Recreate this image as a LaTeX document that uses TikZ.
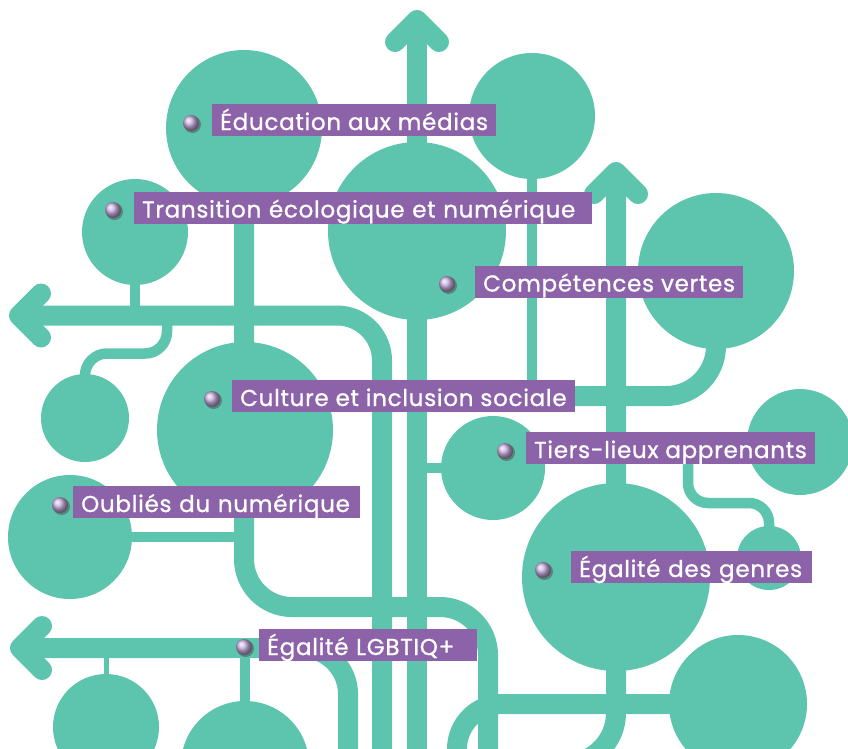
\documentclass[tikz,border=0pt]{standalone}
\usepackage{fontspec}
\setmainfont{Poppins}
\newfontfamily\tagfont[LetterSpace=3.2,FakeBold=1]{Poppins}
\definecolor{leaf}{RGB}{93,196,173}
\definecolor{tagpurple}{RGB}{140,98,168}
\definecolor{pearl}{RGB}{205,178,228}
\begin{document}
\begin{tikzpicture}[x=1pt,y=-1pt,
    blob/.style={circle,fill=leaf,inner sep=0pt},
    trunk/.style={draw=leaf,line width=20pt},
    twig/.style={draw=leaf,line width=10.5pt},
    head/.style={draw=leaf,line width=20pt,line cap=round,line join=round},
    tag/.style={fill=tagpurple,text=white,font=\tagfont\fontsize{23}{27}\selectfont,
      inner xsep=8pt,inner ysep=0pt,text height=26pt,text depth=6pt,anchor=west}]
  \useasboundingbox (0,0) rectangle (848,748);
  \clip (0,0) rectangle (848,748);
  \foreach \n/\x/\y/\d in {cEdu/244/128/156,cTrans/135/232/106,cTop/532/116/126,
      cMid/417/231/178,cVertes/716/271/156,cDot/85/418/88,cCulture/245/430/176,
      cOublies/70/537/124,cTiers/493/468/104,cEdge/800/442/106,cTiny/769/558/64,
      cGenres/616/577/188,cLow/738/704/138,cFoot/106/727/106,cRoot/245/765/128}
    \node[blob,minimum size=\d pt] (\n) at (\x,\y) {};
  \coordinate (tipA) at (417,20);
  \coordinate (baseA) at (417,760);
  \coordinate (tipB) at (616,172);
  \coordinate (endB) at (540,764);
  \coordinate (tipL) at (19,315.5);
  \coordinate (baseL) at (382,760);
  \coordinate (tipG) at (20,648);
  \coordinate (baseG) at (348,760);
  \coordinate (bendC) at (488,607);
  \coordinate (baseC) at (488,760);
  \coordinate (baseD) at (457,760);
  \coordinate (joinV) at (417,396);
  \coordinate (joinS) at (167,315.5);
  \coordinate (startT) at (688,450);
  \draw[trunk] (baseA) -- (tipA);
  \draw[head] (tipA) ++(-22,22) -- (tipA) -- ++(22,22);
  \draw[trunk,rounded corners=51pt] (tipB) |- (endB);
  \draw[head] (tipB) ++(-22,22) -- (tipB) -- ++(22,22);
  \draw[trunk,rounded corners=45pt] (tipL) -| (baseL);
  \draw[head] (tipL) ++(22,-22) -- (tipL) -- ++(22,22);
  \draw[trunk,rounded corners=46pt] (tipG) -| (baseG);
  \draw[head] (tipG) ++(22,-22) -- (tipG) -- ++(22,22);
  \draw[trunk,rounded corners=48pt] (cEdu.center) |- (bendC) -- (baseC);
  \draw[trunk,rounded corners=45pt] (cLow.center) -| (baseD);
  \draw[trunk,rounded corners=50pt] (cVertes.center) |- (joinV);
  \draw[twig] (cTop.center) -- (cTop.center |- joinV);
  \draw[twig] (cTrans.center) -- (cTrans.center |- tipL);
  \draw[twig,rounded corners=22pt] (joinS) -- ++(0,38) -| (cDot.center);
  \draw[twig] (cOublies.center) -- (cOublies.center -| cCulture.center);
  \draw[twig] (cTiers.center) -- (cTiers.center -| cMid.center);
  \draw[twig,rounded corners=20pt] (startT) -- ++(0,53) -| (cTiny.center);
  \draw[draw=leaf,line width=5pt] (cFoot.center) -- (cFoot.center |- tipG);
  \draw[twig] (cRoot.center) -- (cRoot.center |- tipG);
  \node[tag] (tEdu) at (212,120) {Éducation aux médias};
  \node[tag,text width=442pt] (tTrans) at (134,207.5) {Transition écologique et numérique};
  \node[tag] (tVertes) at (475,281.5) {Compétences vertes};
  \node[tag] (tCulture) at (232,396) {Culture et inclusion sociale};
  \node[tag] (tTiers) at (526,448) {Tiers-lieux apprenants};
  \node[tag,text width=271pt] (tOublies) at (73,502) {Oubliés du numérique};
  \node[tag,text width=225pt] (tGenres) at (571,567) {Égalité des genres};
  \node[tag,text width=202pt] (tLgbt) at (259,645) {Égalité LGBTIQ+};
  \foreach \x/\y in {191/123,113/210,447/284,212/399,505/451,60/505,543/570,244/647} {
    \fill[black!70,opacity=.5] (\x+1.5,\y+1.5) circle[radius=8.5pt];
    \shade[ball color=pearl] (\x,\y) circle[radius=8pt];
  }
\end{tikzpicture}
\end{document}
